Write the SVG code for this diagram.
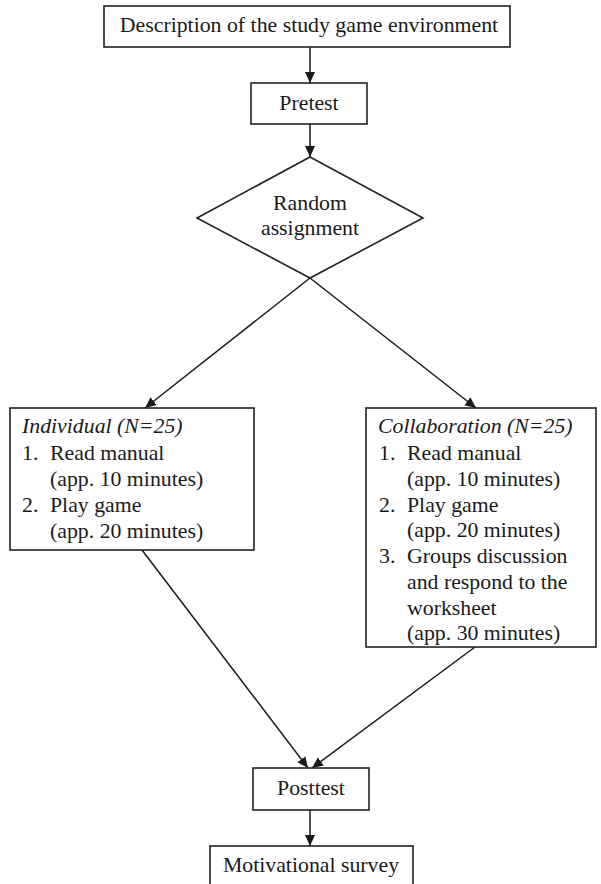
<svg xmlns="http://www.w3.org/2000/svg" width="601" height="884" viewBox="0 0 601 884">
<defs>
<style>
.box{fill:#fff;stroke:#222;stroke-width:1.6}
.t{font-family:"Liberation Serif","Times New Roman",serif;font-size:21.8px;fill:#1a1a1a}
.c{text-anchor:middle}
.i{font-style:italic}
.ln{stroke:#1a1a1a;stroke-width:1.5;fill:none}
</style>
<marker id="ah" markerUnits="userSpaceOnUse" markerWidth="12" markerHeight="12" viewBox="0 0 12 12" refX="11" refY="6" orient="auto">
<path d="M0,1 L11,6 L0,11 Z" fill="#1a1a1a"/>
</marker>
</defs>
<rect width="601" height="884" fill="#fff"/>
<g id="connectors">
<line class="ln" x1="310" y1="47" x2="310" y2="83" marker-end="url(#ah)"/>
<line class="ln" x1="310" y1="124" x2="310" y2="157" marker-end="url(#ah)"/>
<line class="ln" x1="310" y1="278" x2="145" y2="408" marker-end="url(#ah)"/>
<line class="ln" x1="310" y1="278" x2="476" y2="408" marker-end="url(#ah)"/>
<line class="ln" x1="142" y1="550" x2="308" y2="768" marker-end="url(#ah)"/>
<line class="ln" x1="475" y1="647" x2="312" y2="768" marker-end="url(#ah)"/>
<line class="ln" x1="310" y1="810" x2="310" y2="846" marker-end="url(#ah)"/>
</g>
<g id="description">
<rect class="box" x="104" y="6" width="406" height="41"/>
<text class="t c" x="309" y="32">Description of the study game environment</text>
</g>
<g id="pretest">
<rect class="box" x="251" y="83" width="116" height="41"/>
<text class="t c" x="309" y="110">Pretest</text>
</g>
<g id="random">
<polygon class="box" points="310,157 423,218 310,278 197,218"/>
<text class="t c" x="310" y="210">Random</text>
<text class="t c" x="310" y="235">assignment</text>
</g>
<g id="individual">
<rect class="box" x="10" y="408" width="244" height="142"/>
<text class="t i" x="22" y="433">Individual (N=25)</text>
<text class="t" x="22" y="460">1.</text>
<text class="t" x="50" y="460">Read manual</text>
<text class="t" x="50" y="486">(app. 10 minutes)</text>
<text class="t" x="22" y="512">2.</text>
<text class="t" x="50" y="512">Play game</text>
<text class="t" x="50" y="538">(app. 20 minutes)</text>
</g>
<g id="collaboration">
<rect class="box" x="366" y="408" width="230" height="239"/>
<text class="t i" x="378" y="433">Collaboration (N=25)</text>
<text class="t" x="379" y="460">1.</text>
<text class="t" x="407" y="460">Read manual</text>
<text class="t" x="407" y="486">(app. 10 minutes)</text>
<text class="t" x="379" y="512">2.</text>
<text class="t" x="407" y="512">Play game</text>
<text class="t" x="407" y="537">(app. 20 minutes)</text>
<text class="t" x="379" y="563">3.</text>
<text class="t" x="407" y="563">Groups discussion</text>
<text class="t" x="407" y="589">and respond to the</text>
<text class="t" x="407" y="615">worksheet</text>
<text class="t" x="407" y="640">(app. 30 minutes)</text>
</g>
<g id="posttest">
<rect class="box" x="253" y="768" width="116" height="42"/>
<text class="t c" x="311" y="795">Posttest</text>
</g>
<g id="survey">
<rect class="box" x="210" y="846" width="203" height="50"/>
<text class="t c" x="311" y="872">Motivational survey</text>
</g>
</svg>
